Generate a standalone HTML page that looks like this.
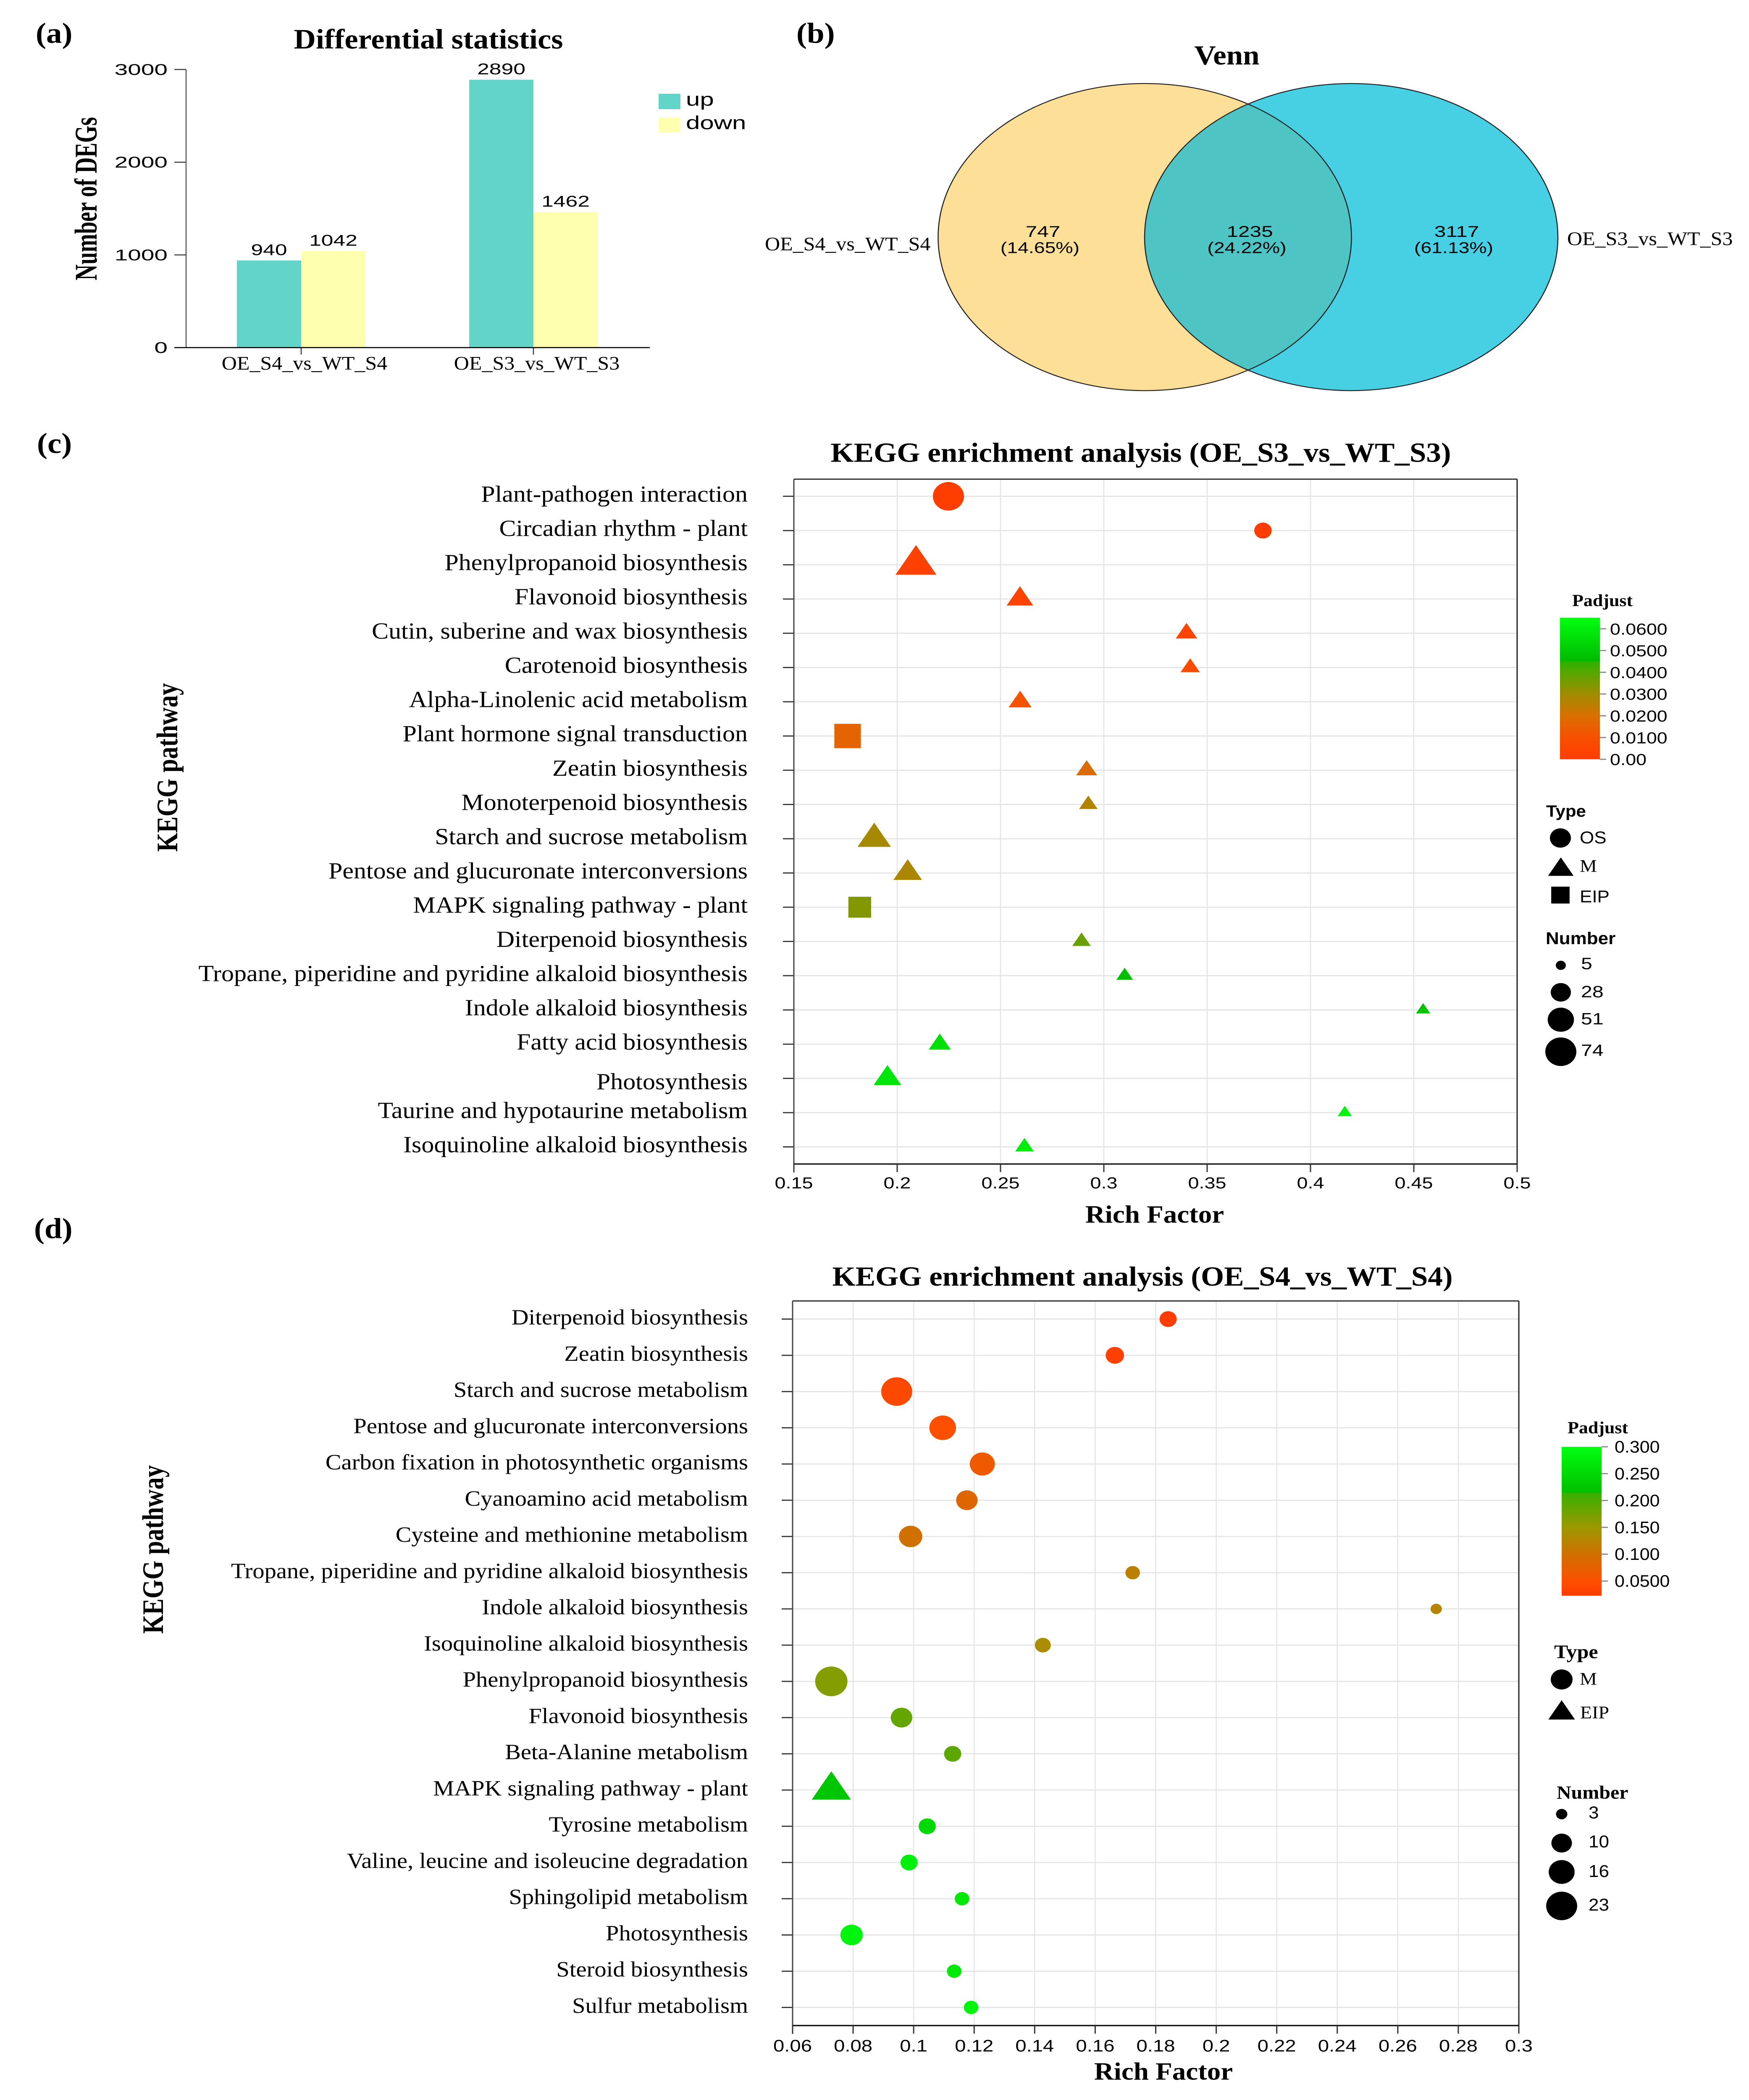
<!DOCTYPE html>
<html lang="en">
<head>
<meta charset="utf-8">
<title>DEG statistics, Venn and KEGG enrichment</title>
<style>
html,body{margin:0;padding:0;background:#fff;width:100%;height:100%;overflow:hidden;}
svg{display:block;position:fixed;left:0;top:0;width:100vw;height:100vh;}
text{fill:#000;}
.serif{font-family:"Liberation Serif",serif;}
.sans{font-family:"Liberation Sans",sans-serif;}
.bold{font-weight:700;}
</style>
</head>
<body>
<svg id="figure" xmlns="http://www.w3.org/2000/svg" viewBox="0 0 4164 5443" preserveAspectRatio="none">
  <rect x="0" y="0" width="4164" height="5443" fill="#ffffff"/>
  <defs>
    <clipPath id="venn-left-clip"><ellipse cx="2725.5" cy="614.5" rx="492" ry="398"/></clipPath>
    <linearGradient id="c-bar-gradient" x1="0" y1="0" x2="0" y2="1"></linearGradient>
    <linearGradient id="d-bar-gradient" x1="0" y1="0" x2="0" y2="1"></linearGradient>
  </defs>

  <text class="serif bold" x="85" y="111" font-size="75">(a)</text>
  <text class="serif bold" x="1896" y="111" font-size="75">(b)</text>
  <text class="serif bold" x="88" y="1174" font-size="75">(c)</text>
  <text class="serif bold" x="81" y="3209" font-size="75">(d)</text>

  <g id="panel-a">
    <text class="serif bold" x="1020" y="126" font-size="72.5" text-anchor="middle">Differential statistics</text>
    <text class="serif bold" text-anchor="middle" font-size="75" transform="translate(230 515) rotate(-90) scale(0.76 1)">Number of DEGs</text>
    <rect x="1568" y="243" width="52" height="40" fill="#62d5c8"/>
    <rect x="1568" y="305" width="52" height="39" fill="#feffaf"/>
    <text class="sans" font-size="48" transform="translate(1633 274) scale(1.25 1)">up</text>
    <text class="sans" font-size="48" transform="translate(1633 335) scale(1.25 1)">down</text>
  </g>

  <g id="panel-b">
    <text class="serif bold" x="2921" y="167" font-size="71" text-anchor="middle">Venn</text>
    <ellipse cx="2725.5" cy="614.5" rx="492" ry="398" fill="#fddf97"/>
    <ellipse cx="3217" cy="614.5" rx="492" ry="398" fill="#47cfe3"/>
    <ellipse cx="3217" cy="614.5" rx="492" ry="398" fill="#4ec5c4" clip-path="url(#venn-left-clip)"/>
    <ellipse cx="2725.5" cy="614.5" rx="492" ry="398" fill="none" stroke="#222" stroke-width="2.5"/>
    <ellipse cx="3217" cy="614.5" rx="492" ry="398" fill="none" stroke="#222" stroke-width="2.5"/>
    <text class="serif" x="1821" y="649" font-size="50">OE_S4_vs_WT_S4</text>
    <text class="serif" x="3731" y="635" font-size="50">OE_S3_vs_WT_S3</text>
  </g>

  <g id="panel-c">
    <text class="serif bold" x="2716" y="1197" font-size="71" text-anchor="middle">KEGG enrichment analysis (OE_S3_vs_WT_S3)</text>
    <text class="serif bold" text-anchor="middle" font-size="71" transform="translate(422 1989) rotate(-90) scale(0.89 1)">KEGG pathway</text>
    <text class="serif bold" x="2749" y="3169" font-size="65" text-anchor="middle">Rich Factor</text>
    <text class="serif bold" x="3743" y="1571" font-size="44">Padjust</text>
    <text class="sans bold" x="3681" y="2117" font-size="42">Type</text>
    <text class="sans bold" x="3680" y="2447" font-size="44">Number</text>
    <text class="sans" x="3761" y="2186" font-size="44">OS</text>
    <text class="serif" x="3761" y="2260" font-size="46">M</text>
    <text class="sans" x="3761" y="2339" font-size="44">EIP</text>
  </g>

  <g id="panel-d">
    <text class="serif bold" x="2720" y="3332" font-size="71" text-anchor="middle">KEGG enrichment analysis (OE_S4_vs_WT_S4)</text>
    <text class="serif bold" text-anchor="middle" font-size="71" transform="translate(388 4016) rotate(-90) scale(0.89 1)">KEGG pathway</text>
    <text class="serif bold" x="2770" y="5390" font-size="65" text-anchor="middle">Rich Factor</text>
    <text class="serif bold" x="3732" y="3715" font-size="44">Padjust</text>
    <text class="serif bold" x="3700" y="4298" font-size="50">Type</text>
    <text class="serif bold" x="3706" y="4662" font-size="48">Number</text>
    <text class="serif" x="3761" y="4367" font-size="46">M</text>
    <text class="serif" x="3762" y="4454" font-size="46">EIP</text>
  </g>
</svg>

<script>
// ---------- Panel (a) data ----------
const barCategories = ["OE_S4_vs_WT_S4", "OE_S3_vs_WT_S3"];
const barUp = [940, 2890];
const barDown = [1042, 1462];
const barTicks = [0, 1000, 2000, 3000];

// ---------- Panel (b) data ----------
const vennCounts = ["747", "1235", "3117"];
const vennPercents = ["(14.65%)", "(24.22%)", "(61.13%)"];

// ---------- Panel (c) data ----------
const cPathways = ["Plant-pathogen interaction", "Circadian rhythm - plant", "Phenylpropanoid biosynthesis", "Flavonoid biosynthesis", "Cutin, suberine and wax biosynthesis", "Carotenoid biosynthesis", "Alpha-Linolenic acid metabolism", "Plant hormone signal transduction", "Zeatin biosynthesis", "Monoterpenoid biosynthesis", "Starch and sucrose metabolism", "Pentose and glucuronate interconversions", "MAPK signaling pathway - plant", "Diterpenoid biosynthesis", "Tropane, piperidine and pyridine alkaloid biosynthesis", "Indole alkaloid biosynthesis", "Fatty acid biosynthesis", "Photosynthesis", "Taurine and hypotaurine metabolism", "Isoquinoline alkaloid biosynthesis"];
const cRich = [0.2248, 0.377, 0.2091, 0.2594, 0.340, 0.3418, 0.2595, 0.176, 0.2917, 0.2925, 0.1889, 0.2051, 0.1819, 0.2892, 0.3101, 0.4545, 0.2206, 0.1953, 0.4166, 0.2616];
const cPadj = [0.001, 0.001, 0.002, 0.004, 0.005, 0.008, 0.011, 0.016, 0.019, 0.027, 0.029, 0.028, 0.034, 0.0375, 0.047, 0.048, 0.056, 0.058, 0.062, 0.060];
const cNumber = [74, 20, 74, 28, 17, 13, 20, 70, 16, 12, 47, 33, 50, 12, 9, 6, 18, 31, 6, 12];
const cType = ["OS", "OS", "M", "M", "M", "M", "M", "EIP", "M", "M", "M", "M", "EIP", "M", "M", "M", "M", "M", "M", "M"];
const cXTicks = [0.15, 0.2, 0.25, 0.3, 0.35, 0.4, 0.45, 0.5];
const cXTickLabels = ["0.15", "0.2", "0.25", "0.3", "0.35", "0.4", "0.45", "0.5"];
const cColorTicks = [0, 0.01, 0.02, 0.03, 0.04, 0.05, 0.06];
const cColorTickLabels = ["0.00", "0.0100", "0.0200", "0.0300", "0.0400", "0.0500", "0.0600"];
const cColorDomain = [0, 0.01, 0.02, 0.03, 0.04, 0.0445, 0.0455, 0.0651];
const cColorRange = ["#ff3c00", "#f85000", "#d87000", "#a08c00", "#55a800", "#30b000", "#00bb00", "#00ff10"];
const cSizeLegend = [5, 28, 51, 74];

// ---------- Panel (d) data ----------
const dPathways = ["Diterpenoid biosynthesis", "Zeatin biosynthesis", "Starch and sucrose metabolism", "Pentose and glucuronate interconversions", "Carbon fixation in photosynthetic organisms", "Cyanoamino acid metabolism", "Cysteine and methionine metabolism", "Tropane, piperidine and pyridine alkaloid biosynthesis", "Indole alkaloid biosynthesis", "Isoquinoline alkaloid biosynthesis", "Phenylpropanoid biosynthesis", "Flavonoid biosynthesis", "Beta-Alanine metabolism", "MAPK signaling pathway - plant", "Tyrosine metabolism", "Valine, leucine and isoleucine degradation", "Sphingolipid metabolism", "Photosynthesis", "Steroid biosynthesis", "Sulfur metabolism"];
const dRich = [0.1841, 0.1665, 0.0944, 0.1096, 0.1227, 0.1176, 0.099, 0.1724, 0.2727, 0.1427, 0.0728, 0.096, 0.1129, 0.0728, 0.1045, 0.0985, 0.116, 0.0795, 0.1134, 0.119];
const dPadj = [0.024, 0.03, 0.04, 0.05, 0.065, 0.085, 0.1, 0.12, 0.125, 0.135, 0.165, 0.185, 0.19, 0.225, 0.25, 0.28, 0.27, 0.285, 0.27, 0.285];
const dNumber = [7, 8, 23, 17, 15, 11, 13, 5, 3, 6, 25, 11, 7, 21, 7, 7, 5, 12, 5, 5];
const dType = ["M", "M", "M", "M", "M", "M", "M", "M", "M", "M", "M", "M", "M", "EIP", "M", "M", "M", "M", "M", "M"];
const dXTicks = [0.06, 0.08, 0.1, 0.12, 0.14, 0.16, 0.18, 0.2, 0.22, 0.24, 0.26, 0.28, 0.3];
const dXTickLabels = ["0.06", "0.08", "0.1", "0.12", "0.14", "0.16", "0.18", "0.2", "0.22", "0.24", "0.26", "0.28", "0.3"];
const dColorTicks = [0.05, 0.1, 0.15, 0.2, 0.25, 0.3];
const dColorTickLabels = ["0.0500", "0.100", "0.150", "0.200", "0.250", "0.300"];
const dColorDomain = [0.0226, 0.05, 0.1, 0.15, 0.2, 0.213, 0.216, 0.3];
const dColorRange = ["#ff3c00", "#fc5000", "#d07000", "#9c9800", "#4cab00", "#38b000", "#00bf00", "#00ff10"];
const dSizeLegend = [3, 10, 16, 23];

// ---------- helpers ----------
const NS = "http://www.w3.org/2000/svg";
function make(parent, tag, name, attrs) {
  const el = document.createElementNS(NS, tag);
  
  
  for (const k in attrs) el.setAttribute(k, attrs[k]);
  parent.appendChild(el);
  return el;
}
function label(parent, name, str, x, y, size, family, anchor, sx) {
  const el = make(parent, "text", name, {
    "class": family,
    "font-size": size,
    "text-anchor": anchor,
    "transform": "translate(" + x + " " + y + ") scale(" + (sx || 1) + " 1)"
  });
  el.textContent = str;
  return el;
}
function line(parent, name, x1, y1, x2, y2, color, width) {
  return make(parent, "line", name, { x1: x1, y1: y1, x2: x2, y2: y2, stroke: color, "stroke-width": width });
}
function hexToRgb(h) {
  return [parseInt(h.slice(1, 3), 16), parseInt(h.slice(3, 5), 16), parseInt(h.slice(5, 7), 16)];
}
function colorScale(domain, range, v) {
  if (v <= domain[0]) return range[0];
  for (let i = 1; i < domain.length; i++) {
    if (v <= domain[i]) {
      const t = (v - domain[i - 1]) / (domain[i] - domain[i - 1]);
      const a = hexToRgb(range[i - 1]);
      const b = hexToRgb(range[i]);
      return "rgb(" + a.map(function (c, j) { return Math.round(c + (b[j] - c) * t); }).join(",") + ")";
    }
  }
  return range[range.length - 1];
}
function marker(parent, name, shapeKind, cx, cy, r, color) {
  if (shapeKind === "circle") {
    return make(parent, "circle", name, { cx: cx, cy: cy, r: r, fill: color });
  }
  if (shapeKind === "triangle") {
    const pts = [[cx, cy - 1.38 * r], [cx + 1.32 * r, cy + 0.70 * r], [cx - 1.32 * r, cy + 0.70 * r]];
    return make(parent, "polygon", name, { points: pts.map(function (p) { return p.join(","); }).join(" "), fill: color });
  }
  const s = 1.75 * r;
  return make(parent, "rect", name, { x: cx - s / 2, y: cy - s / 2, width: s, height: s, fill: color });
}

// ---------- Panel (a) ----------
const panelA = document.getElementById("panel-a");
function aY(v) { return 901 - v * 0.2403; }
function aX(i) { return 717 + 553 * i; }
const aBarWidth = 153;
line(panelA, "bar-y-axis-line", 443, aY(3000), 443, aY(0), "#555", 2.5);
barTicks.forEach(function (t) {
  line(panelA, "bar-y-tick", 415, aY(t), 443, aY(t), "#333", 2.5);
  label(panelA, "bar-y-tick-label", String(t), 399, aY(t) + 14, 40, "sans", "end", 1.42);
});
barCategories.forEach(function (cat, i) {
  make(panelA, "rect", "bar-up", { x: aX(i) - aBarWidth, y: aY(barUp[i]), width: aBarWidth, height: aY(0) - aY(barUp[i]), fill: "#62d5c8" });
  make(panelA, "rect", "bar-down", { x: aX(i), y: aY(barDown[i]), width: aBarWidth, height: aY(0) - aY(barDown[i]), fill: "#feffaf" });
  label(panelA, "bar-up-value", String(barUp[i]), aX(i) - aBarWidth / 2, aY(barUp[i]) - 14, 40, "sans", "middle", 1.29);
  label(panelA, "bar-down-value", String(barDown[i]), aX(i) + aBarWidth / 2, aY(barDown[i]) - 14, 40, "sans", "middle", 1.29);
  line(panelA, "bar-x-tick", aX(i), aY(0), aX(i), 919, "#333", 2.5);
  label(panelA, "bar-x-tick-label", cat, aX(i) + 8, 958, 50, "serif", "middle", 1);
});
line(panelA, "bar-x-axis-line", 415, aY(0), 1547, aY(0), "#111", 3);

// ---------- Panel (b) ----------
const panelB = document.getElementById("panel-b");
function vennCountX(i) { return 2483 + 492.5 * i; }
vennCounts.forEach(function (c, i) {
  label(panelB, "venn-count", c, vennCountX(i), 614, 40, "sans", "middle", 1.24);
  label(panelB, "venn-percent", vennPercents[i], vennCountX(i) - 7, 656, 40, "sans", "middle", 1.16);
});

// ---------- Scatter panels (c) and (d) ----------
function bubbleChart(cfg) {
  const g = cfg.group;
  const band = (cfg.bottom - cfg.top) / cfg.pathways.length;
  const xS = function (v) { return cfg.left + (v - cfg.xMin) / (cfg.xMax - cfg.xMin) * (cfg.right - cfg.left); };
  const yS = function (i) { return cfg.top + band * (i + 0.5); };
  cfg.xTicks.forEach(function (t, i) {
    if (i > 0 && i < cfg.xTicks.length - 1) line(g, "grid-vertical", xS(t), cfg.top, xS(t), cfg.bottom, "#e4e4e4", 2.5);
  });
  cfg.pathways.forEach(function (p, i) {
    line(g, "grid-horizontal", cfg.left, yS(i), cfg.right, yS(i), "#e4e4e4", 3);
    line(g, "y-tick", cfg.left - 26, yS(i), cfg.left, yS(i), "#333", 3);
    const dy = cfg.labelShift && p === "Photosynthesis" ? cfg.labelShift : 14;
    label(g, "pathway-label", p, cfg.labelX, yS(i) + dy, cfg.labelSize, "serif", "end", 1);
  });
  line(g, "plot-frame-top", cfg.left, cfg.top, cfg.right, cfg.top, "#222", 3);
  line(g, "plot-frame-right", cfg.right, cfg.top, cfg.right, cfg.bottom, "#222", 3);
  line(g, "plot-frame-left", cfg.left, cfg.top, cfg.left, cfg.bottom + 22, "#444", 3);
  line(g, "plot-frame-bottom", cfg.left, cfg.bottom, cfg.right, cfg.bottom, "#111", 3.5);
  cfg.xTicks.forEach(function (t, i) {
    line(g, "x-tick", xS(t), cfg.bottom, xS(t), cfg.bottom + 21, "#333", 3);
    label(g, "x-tick-label", cfg.xTickLabels[i], xS(t), cfg.bottom + cfg.xLabelDrop, cfg.xLabelSize, "sans", "middle", cfg.xLabelStretch);
  });
  cfg.pathways.forEach(function (p, i) {
    const kind = cfg.shapes[cfg.types[i]];
    marker(g, "point-" + i, kind, xS(cfg.rich[i]), yS(i), cfg.radius(cfg.number[i]), colorScale(cfg.colorDomain, cfg.colorRange, cfg.padj[i]));
  });
  // colour bar
  const grad = document.getElementById(cfg.gradientId);
  const dLen = cfg.colorDomain.length;
  cfg.colorDomain.slice().reverse().forEach(function (v, i) {
    const stop = document.createElementNS(NS, "stop");
    stop.setAttribute("offset", ((cfg.colorDomain[dLen - 1] - v) / (cfg.colorDomain[dLen - 1] - cfg.colorDomain[0])).toFixed(4));
    stop.setAttribute("stop-color", cfg.colorRange[dLen - 1 - i]);
    grad.appendChild(stop);
  });
  make(g, "rect", "colorbar", { x: cfg.barX, y: cfg.barTop, width: cfg.barW, height: cfg.barBottom - cfg.barTop, fill: "url(#" + cfg.gradientId + ")" });
  const cY = function (v) { return cfg.barBottom - (v - cfg.colorDomain[0]) / (cfg.colorDomain[dLen - 1] - cfg.colorDomain[0]) * (cfg.barBottom - cfg.barTop); };
  cfg.colorTicks.forEach(function (t, i) {
    line(g, "colorbar-tick", cfg.barX + cfg.barW, cY(t), cfg.barX + cfg.barW + 15, cY(t), "#888", 3);
    label(g, "colorbar-tick-label", cfg.colorTickLabels[i], cfg.barX + cfg.barW + cfg.barLabelGap, cY(t) + 15, cfg.barLabelSize, "sans", "start", cfg.barLabelStretch);
  });
}

const rC = function (n) { return 3.93 * Math.sqrt(n) + 3.2; };
const rD = function (n) { return 7.65 * Math.sqrt(n) + 0.25; };
const panelC = document.getElementById("panel-c");
const panelD = document.getElementById("panel-d");

bubbleChart({
  group: panelC, pathways: cPathways, rich: cRich, padj: cPadj, number: cNumber, types: cType,
  shapes: { OS: "circle", M: "triangle", EIP: "square" },
  left: 1890, right: 3612, top: 1242, bottom: 3017, xMin: 0.15, xMax: 0.5,
  xTicks: cXTicks, xTickLabels: cXTickLabels, xLabelDrop: 63, xLabelSize: 41, xLabelStretch: 1.14,
  labelX: 1780, labelSize: 60, labelShift: 28, radius: rC,
  colorDomain: cColorDomain, colorRange: cColorRange, colorTicks: cColorTicks, colorTickLabels: cColorTickLabels,
  gradientId: "c-bar-gradient", barX: 3714, barW: 95, barTop: 1601, barBottom: 1968,
  barLabelGap: 24, barLabelSize: 41, barLabelStretch: 1.09
});

bubbleChart({
  group: panelD, pathways: dPathways, rich: dRich, padj: dPadj, number: dNumber, types: dType,
  shapes: { M: "circle", EIP: "triangle" },
  left: 1887, right: 3616, top: 3372, bottom: 5250, xMin: 0.06, xMax: 0.3,
  xTicks: dXTicks, xTickLabels: dXTickLabels, xLabelDrop: 67, xLabelSize: 43, xLabelStretch: 1.1,
  labelX: 1781, labelSize: 56.5, labelShift: 0, radius: rD,
  colorDomain: dColorDomain, colorRange: dColorRange, colorTicks: dColorTicks, colorTickLabels: dColorTickLabels,
  gradientId: "d-bar-gradient", barX: 3718, barW: 95, barTop: 3750, barBottom: 4136,
  barLabelGap: 31, barLabelSize: 43, barLabelStretch: 1
});

// ---------- Shape and size legends ----------
marker(panelC, "legend-shape-os", "circle", 3715, 2172, 25, "#000");
marker(panelC, "legend-shape-m", "triangle", 3716, 2254, 23, "#000");
marker(panelC, "legend-shape-eip", "square", 3715, 2320, 25, "#000");
marker(panelC, "legend-size-0", "circle", 3716, 2502, rC(cSizeLegend[0]), "#000");
label(panelC, "legend-size-label", String(cSizeLegend[0]), 3764, 2512, 42, "sans", "start", 1.15);
marker(panelC, "legend-size-1", "circle", 3716, 2572, rC(cSizeLegend[1]), "#000");
label(panelC, "legend-size-label", String(cSizeLegend[1]), 3764, 2585, 42, "sans", "start", 1.15);
marker(panelC, "legend-size-2", "circle", 3716, 2643, rC(cSizeLegend[2]), "#000");
label(panelC, "legend-size-label", String(cSizeLegend[2]), 3764, 2655, 42, "sans", "start", 1.15);
marker(panelC, "legend-size-3", "circle", 3716, 2726, rC(cSizeLegend[3]), "#000");
label(panelC, "legend-size-label", String(cSizeLegend[3]), 3764, 2737, 42, "sans", "start", 1.15);

marker(panelD, "legend-shape-m", "circle", 3718, 4353, 26, "#000");
marker(panelD, "legend-shape-eip", "triangle", 3718, 4440, 24, "#000");
marker(panelD, "legend-size-0", "circle", 3718, 4702, rD(dSizeLegend[0]), "#000");
label(panelD, "legend-size-label", String(dSizeLegend[0]), 3782, 4713, 44, "sans", "start", 1);
marker(panelD, "legend-size-1", "circle", 3718, 4777, rD(dSizeLegend[1]), "#000");
label(panelD, "legend-size-label", String(dSizeLegend[1]), 3782, 4788, 44, "sans", "start", 1);
marker(panelD, "legend-size-2", "circle", 3718, 4852, rD(dSizeLegend[2]), "#000");
label(panelD, "legend-size-label", String(dSizeLegend[2]), 3782, 4865, 44, "sans", "start", 1);
marker(panelD, "legend-size-3", "circle", 3718, 4940, rD(dSizeLegend[3]), "#000");
label(panelD, "legend-size-label", String(dSizeLegend[3]), 3782, 4952, 44, "sans", "start", 1);
</script>
</body>
</html>
